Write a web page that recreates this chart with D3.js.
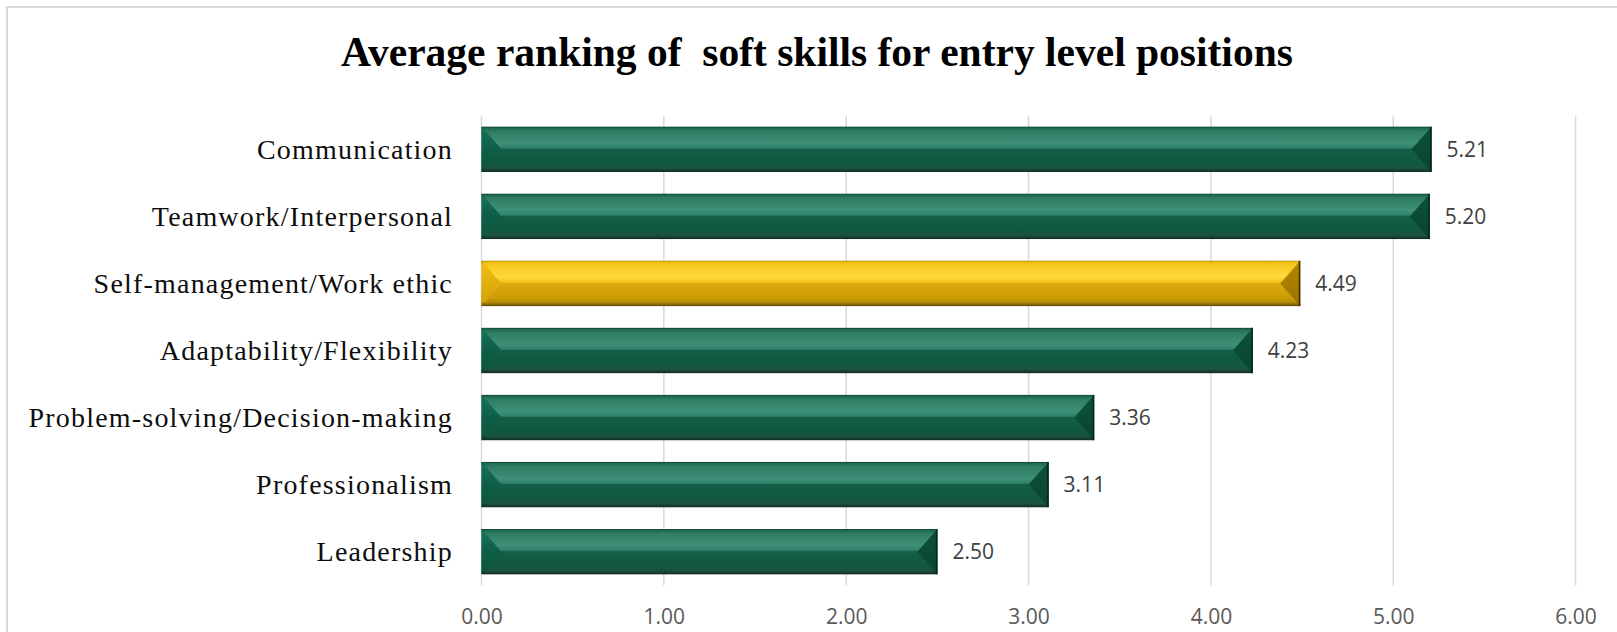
<!DOCTYPE html>
<html>
<head>
<meta charset="utf-8">
<script src="https://cdn.jsdelivr.net/npm/d3@7"></script>
<style>
    body { margin: 0; background: #fff; }
    svg { display: block; }
</style>
</head>
<body>
<div id="chart"></div>
<script>
// Horizontal bar chart: average ranking of soft skills

const titleText = "Average ranking of  soft skills for entry level positions";
const categories = [
    "Communication",
    "Teamwork/Interpersonal",
    "Self-management/Work ethic",
    "Adaptability/Flexibility",
    "Problem-solving/Decision-making",
    "Professionalism",
    "Leadership"
];
const values = [5.21, 5.20, 4.49, 4.23, 3.36, 3.11, 2.50];
const highlighted = ["Self-management/Work ethic"];
const xTicks = [0, 1, 2, 3, 4, 5, 6];

let width = 1617,
    height = 632,
    plotLeft = 481.5,
    plotRight = 1575.6,
    plotTop = 115.8,
    plotBottom = 585.2,
    bevel = 20;

let svg = d3.select("#chart").append("svg")
    .attr("width", width)
    .attr("height", height);

// Gradients for the bevelled bars
// ---------------------------------------------------------

let defs = svg.append("defs");

function vGradient(id, stops) {
    let g = defs.append("linearGradient")
        .attr("id", id)
        .attr("x1", 0).attr("y1", 0)
        .attr("x2", 0).attr("y2", 1);
    g.selectAll("stop")
        .data(stops)
        .enter()
        .append("stop")
            .attr("offset", d => d[0])
            .attr("stop-color", d => d[1]);
}

vGradient("greenBody", [
    [0, "#0a3f2e"], [0.03, "#1d6950"], [0.10, "#2e7c63"], [0.36, "#3f9078"],
    [0.47, "#30816a"], [0.50, "#145f47"], [0.82, "#10573f"], [0.91, "#1c5343"],
    [0.96, "#183e32"], [1, "#0d2a21"]
]);
vGradient("greenLeft", [
    [0, "#0b4a36"], [0.08, "#177058"], [0.45, "#0f6048"], [0.9, "#0d5640"], [1, "#0d2a21"]
]);
vGradient("greenRight", [
    [0, "#0a3f2e"], [0.1, "#0c5038"], [0.9, "#0a4631"], [1, "#0a2a20"]
]);
vGradient("goldBody", [
    [0, "#a88200"], [0.03, "#eebd10"], [0.10, "#f7c81e"], [0.36, "#ffd93d"],
    [0.47, "#f4c51c"], [0.50, "#dcaa0b"], [0.82, "#cc9c06"], [0.91, "#b88c08"],
    [0.96, "#8e6d0a"], [1, "#5a4500"]
]);
vGradient("goldLeft", [
    [0, "#b08800"], [0.08, "#efbc14"], [0.45, "#e3b00e"], [0.9, "#d6a408"], [1, "#5a4500"]
]);
vGradient("goldRight", [
    [0, "#8c6a00"], [0.1, "#b18500"], [0.9, "#9c7600"], [1, "#4a3800"]
]);

// Frame
// ---------------------------------------------------------

svg.append("rect")
    .attr("x", 7)
    .attr("y", 7)
    .attr("width", width + 50)
    .attr("height", height + 50)
    .attr("fill", "white")
    .attr("stroke", "#d9d9d9")
    .attr("stroke-width", 2);

// Scales
// ---------------------------------------------------------

let xScale = d3.scaleLinear()
    .domain([0, 6])
    .range([plotLeft, plotRight]);

let yScale = d3.scaleBand()
    .domain(categories)
    .range([plotTop, plotBottom])
    .paddingInner(0.324)
    .paddingOuter(0.162);

// Title
// ---------------------------------------------------------

svg.append("text")
    .attr("x", 817)
    .attr("y", 66)
    .attr("text-anchor", "middle")
    .style("white-space", "pre")
    .style("font-family", "'Liberation Serif', 'Times New Roman', serif")
    .style("font-weight", "bold")
    .style("font-size", "41.5px")
    .attr("fill", "#000")
    .text(titleText);

// Gridlines and x axis
// ---------------------------------------------------------

svg.append("g")
    .attr("class", "grid")
    .selectAll("line")
    .data(xTicks)
    .enter()
    .append("line")
        .attr("x1", d => xScale(d))
        .attr("x2", d => xScale(d))
        .attr("y1", plotTop)
        .attr("y2", plotBottom)
        .attr("stroke", "#d9d9d9")
        .attr("stroke-width", 1.5);

let xAxis = svg.append("g")
    .attr("transform", `translate(0,${plotBottom})`)
    .call(d3.axisBottom(xScale).tickValues(xTicks).tickFormat(d3.format(".2f")).tickSize(0));

xAxis.select(".domain").remove();
xAxis.selectAll("text")
    .attr("y", 31.5)
    .attr("dy", "0.35em")
    .attr("fill", "#595959")
    .style("font-family", "'Open Sans', sans-serif")
    .style("font-size", "21px");

// Category labels
// ---------------------------------------------------------

svg.append("g")
    .selectAll("text")
    .data(categories)
    .enter()
    .append("text")
        .attr("x", 453)
        .attr("y", d => yScale(d) + yScale.bandwidth() / 2)
        .attr("dy", "0.33em")
        .attr("text-anchor", "end")
        .style("font-family", "'Liberation Serif', 'Times New Roman', serif")
        .style("font-size", "28px")
        .style("letter-spacing", "1.2px")
        .attr("fill", "#0d0d0d")
        .text(d => d);

// Bars
// ---------------------------------------------------------

let barData = categories.map((c, i) => ({ category: c, value: values[i], gold: highlighted.includes(c) }));

let bars = svg.append("g")
    .selectAll(".bar")
    .data(barData)
    .enter()
    .append("g")
        .attr("class", "bar");

bars.append("rect")
    .attr("x", xScale(0))
    .attr("y", d => yScale(d.category))
    .attr("width", d => xScale(d.value) - xScale(0))
    .attr("height", yScale.bandwidth())
    .attr("fill", d => d.gold ? "url(#goldBody)" : "url(#greenBody)");

bars.append("polygon")
    .attr("points", d => {
        let x0 = xScale(0), y0 = yScale(d.category), h = yScale.bandwidth();
        return [[x0, y0], [x0 + bevel, y0 + h / 2], [x0, y0 + h]].join(" ");
    })
    .attr("fill", d => d.gold ? "url(#goldLeft)" : "url(#greenLeft)");

bars.append("polygon")
    .attr("points", d => {
        let x1 = xScale(d.value), y0 = yScale(d.category), h = yScale.bandwidth();
        return [[x1, y0], [x1 - bevel, y0 + h / 2], [x1, y0 + h]].join(" ");
    })
    .attr("fill", d => d.gold ? "url(#goldRight)" : "url(#greenRight)");

bars.append("line")
    .attr("x1", d => xScale(d.value) - 0.75)
    .attr("x2", d => xScale(d.value) - 0.75)
    .attr("y1", d => yScale(d.category))
    .attr("y2", d => yScale(d.category) + yScale.bandwidth())
    .attr("stroke", d => d.gold ? "#3d2f00" : "#06271d")
    .attr("stroke-width", 1.5);

// Data labels
// ---------------------------------------------------------

bars.append("text")
    .attr("x", d => xScale(d.value) + 15)
    .attr("y", d => yScale(d.category) + yScale.bandwidth() / 2)
    .attr("dy", "0.35em")
    .attr("fill", "#404040")
    .style("font-family", "'Open Sans', sans-serif")
    .style("font-size", "21px")
    .text(d => d3.format(".2f")(d.value));
</script>
</body>
</html>
